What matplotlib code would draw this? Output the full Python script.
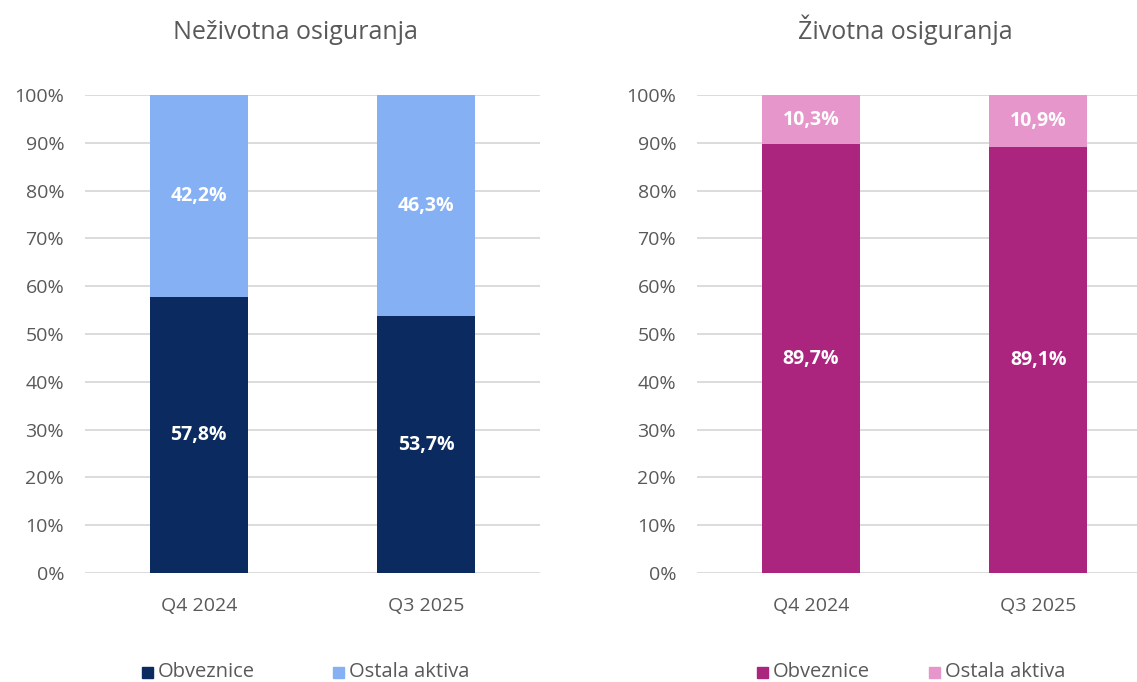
import matplotlib
matplotlib.use("Agg")
import matplotlib.pyplot as plt
from matplotlib.patches import Rectangle

plt.rcParams['font.family'] = ['Open Sans', 'DejaVu Sans']

categories = ["Q4 2024", "Q3 2025"]
series_names = ["Obveznice", "Ostala aktiva"]
nonlife_bonds = [57.8, 53.7]
nonlife_other = [42.2, 46.3]
life_bonds = [89.7, 89.1]
life_other = [10.3, 10.9]
titles = ["Neživotna osiguranja", "Životna osiguranja"]
yticks = [0, 10, 20, 30, 40, 50, 60, 70, 80, 90, 100]

W, H = 1137, 682
fig = plt.figure(figsize=(W/100, H/100), dpi=100)
grey = "#595959"

def ax_rect(l, r, t, b):
    return [l/W, 1 - b/H, (r-l)/W, (b-t)/H]

panels = [
    (ax_rect(85, 540, 95, 573), nonlife_bonds, nonlife_other, "#0b2a5f", "#86b0f4", 295, [(147, "Obveznice"), (338, "Ostala aktiva")]),
    (ax_rect(697, 1152, 95, 573), life_bonds, life_other, "#ab247e", "#e696cb", 905, [(762, "Obveznice"), (934, "Ostala aktiva")]),
]

for i, (rect, bonds, other, c1, c2, tx, leg) in enumerate(panels):
    ax = fig.add_axes(rect)
    x = list(range(len(categories)))
    ax.bar(x, bonds, width=0.43, color=c1, zorder=3)
    ax.bar(x, other, width=0.43, bottom=bonds, color=c2, zorder=3)
    for xi, b, o in zip(x, bonds, other):
        ax.text(xi, b/2, f"{b:.1f}%".replace(".", ","), ha="center", va="center",
                color="white", fontsize=14, fontweight="bold", zorder=4)
        ax.text(xi, b + o/2, f"{o:.1f}%".replace(".", ","), ha="center", va="center",
                color="white", fontsize=14, fontweight="bold", zorder=4)
    ax.set_xlim(-0.5, 1.5)
    ax.set_ylim(0, 100)
    ax.set_yticks(yticks)
    ax.set_yticklabels([f"{v}%" for v in yticks])
    ax.set_xticks(x)
    ax.set_xticklabels(categories)
    ax.grid(axis="y", color="#d9d9d9", linewidth=1.3, zorder=0)
    ax.set_axisbelow(True)
    for s in ax.spines.values():
        s.set_visible(False)
    ax.tick_params(length=0, labelsize=14, colors=grey)
    ax.tick_params(axis="y", pad=15)
    ax.tick_params(axis="x", pad=17)
    fig.text(tx/W, 1 - 39/H, titles[i], ha="center", va="baseline", fontsize=18, color=grey)
    cols = [c1, c2]
    for (lx, name), col in zip(leg, cols):
        fig.patches.append(Rectangle(((lx-5)/W, 1 - 678/H), 11/W, 11/H, transform=fig.transFigure,
                                     color=col, figure=fig))
        fig.text((lx+11)/W, 1 - 672/H, name, ha="left", va="center", fontsize=14.5, color=grey)

fig.savefig("out.png", dpi=100)
